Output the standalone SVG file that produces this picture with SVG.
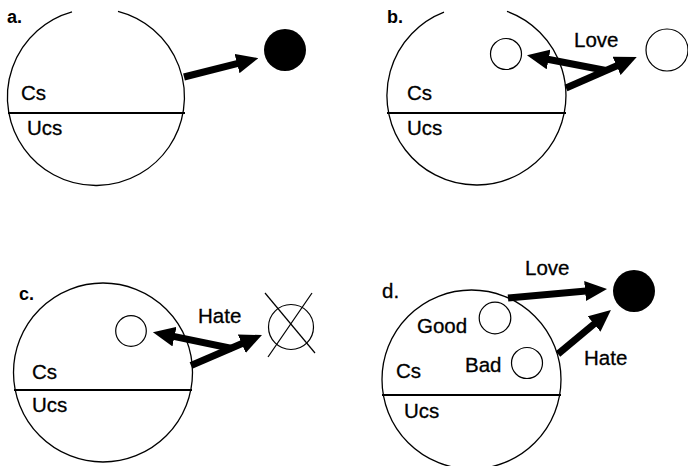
<svg xmlns="http://www.w3.org/2000/svg" width="688" height="466" viewBox="0 0 688 466">
<style>
.ring{fill:none;stroke:#000;stroke-width:1.3}
.div{stroke:#000;stroke-width:2}
.obj{fill:#fff;stroke:#000;stroke-width:1.2}
.solid{fill:#000}
.lbl{font-family:"Liberation Sans",Arial,sans-serif;font-size:20.5px;fill:#000;stroke:#000;stroke-width:0.3}
.tag{font-family:"Liberation Sans",Arial,sans-serif;font-size:18px;font-weight:bold;fill:#000}
.arr{stroke:#000;stroke-width:7;fill:none;marker-end:url(#head)}
</style>
<defs>
<marker id="head" viewBox="0 0 22 20" markerWidth="22" markerHeight="20" refX="1" refY="10" orient="auto" markerUnits="userSpaceOnUse">
<path d="M0,0 L22,10 L0,20 z" fill="#000"/>
</marker>
</defs>
<rect width="688" height="466" fill="#fff"/>

<g id="panel-a">
<text class="tag" x="7" y="23">a.</text>
<path class="ring" d="M118,11.3 A88.5 88.5 0 1 1 72,11.8"/>
<line class="div" x1="8" y1="113" x2="185" y2="113"/>
<text class="lbl" x="21" y="100">Cs</text>
<text class="lbl" x="27" y="135">Ucs</text>
</g>
<g id="a-object"><circle class="solid" cx="285" cy="50" r="21"/></g>

<g id="panel-b">
<text class="tag" x="387" y="23">b.</text>
<path class="ring" d="M507,11.4 A89.5 89.5 0 1 1 444,12.1"/>
<line class="div" x1="387" y1="113" x2="566" y2="113"/>
<text class="lbl" x="407" y="100">Cs</text>
<text class="lbl" x="407" y="135">Ucs</text>
</g>
<g id="b-inner"><circle class="obj" cx="506" cy="54" r="15.5"/></g>
<g id="b-object"><circle class="obj" cx="667" cy="50" r="21"/></g>

<g id="panel-c">
<text class="tag" x="19" y="300">c.</text>
<circle class="ring" cx="103" cy="372.5" r="89.5"/>
<line class="div" x1="14" y1="390" x2="192" y2="390"/>
<text class="lbl" x="32" y="379">Cs</text>
<text class="lbl" x="32" y="412">Ucs</text>
</g>
<g id="c-inner"><circle class="obj" cx="131" cy="331" r="15.3"/></g>
<g id="c-object">
<circle class="obj" cx="291" cy="327" r="22.5"/>
<line stroke="#000" stroke-width="1.2" x1="265" y1="293" x2="315" y2="353"/>
<line stroke="#000" stroke-width="1.2" x1="312" y1="293" x2="268" y2="357"/>
</g>

<g id="panel-d">
<text class="lbl" x="382" y="298">d.</text>
<circle class="ring" cx="471.5" cy="379.5" r="89.5"/>
<line class="div" x1="382" y1="395" x2="561" y2="395"/>
<text class="lbl" x="396" y="378">Cs</text>
<text class="lbl" x="404" y="418">Ucs</text>
</g>
<g id="d-good"><text class="lbl" x="417" y="333">Good</text><circle class="obj" cx="495" cy="318" r="15.8"/></g>
<g id="d-bad"><text class="lbl" x="465" y="372">Bad</text><circle class="obj" cx="527" cy="363" r="15.5"/></g>
<g id="d-object"><circle class="solid" cx="634" cy="291" r="21"/></g>

<g id="connectors">
<line class="arr" x1="184" y1="77" x2="238" y2="63.3"/>
<line class="arr" x1="566" y1="88" x2="617.5" y2="65.5"/>
<line class="arr" x1="606" y1="70.5" x2="547.6" y2="59.3"/>
<text class="lbl" x="574" y="47">Love</text>
<line class="arr" x1="191" y1="365.5" x2="242.7" y2="343.3"/>
<line class="arr" x1="232" y1="348.5" x2="173.5" y2="336.4"/>
<text class="lbl" x="198" y="323">Hate</text>
<line class="arr" x1="508" y1="298" x2="586.1" y2="290.9"/>
<text class="lbl" x="525" y="275">Love</text>
<line class="arr" x1="558" y1="354" x2="594.8" y2="323.4"/>
<text class="lbl" x="584" y="365">Hate</text>
</g>
</svg>
